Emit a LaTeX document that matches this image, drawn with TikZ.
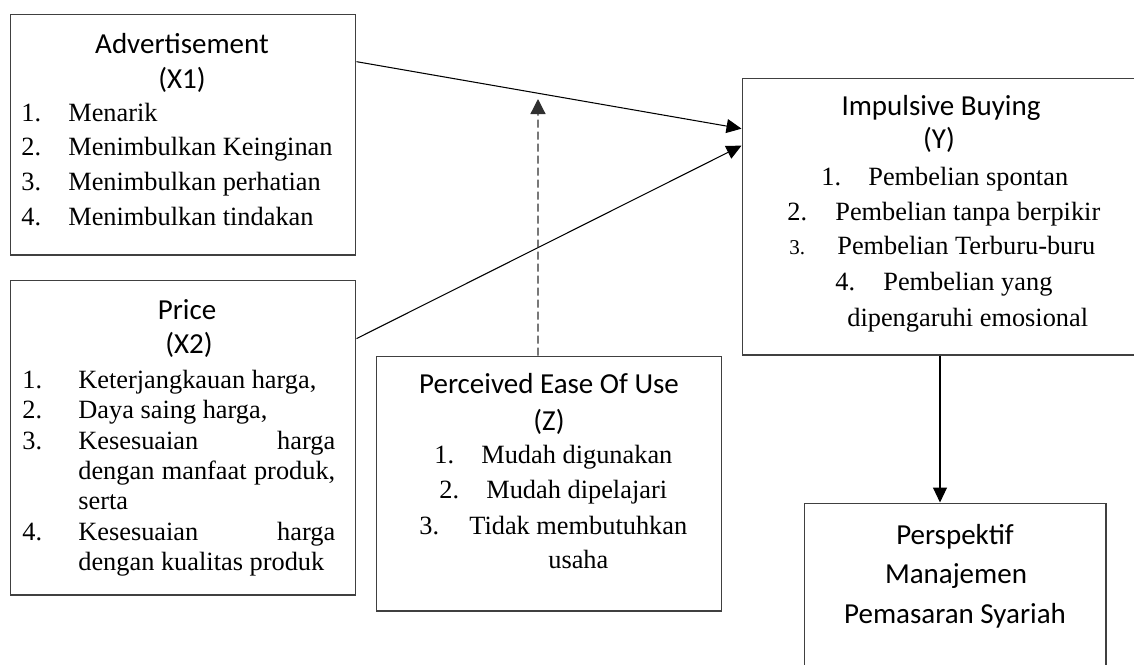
\documentclass[tikz,border=0pt]{standalone}
\usepackage{fontspec}
\setmainfont{Liberation Serif}
\newfontfamily\calfont{Carlito}
\usetikzlibrary{arrows.meta,calc}
\definecolor{boxgray}{HTML}{404040}
\definecolor{dashgray}{HTML}{303030}
\newcommand{\itemfont}{\fontsize{15pt}{18pt}\selectfont}
\newcommand{\smallnum}{\fontsize{12pt}{14pt}\selectfont}
\newcommand{\titlefont}{\calfont\fontsize{16.5pt}{20pt}\selectfont}
\begin{document}
\begin{tikzpicture}[x=0.02cm,y=-0.02cm,
  box/.style={draw=boxgray,line width=0.6pt,rectangle,inner sep=0pt},
  ttl/.style={font=\titlefont,inner sep=0pt,anchor=base},
  itm/.style={font=\itemfont,inner sep=0pt,anchor=base west},
  conn/.style={line width=0.6pt,draw=black,-{Triangle[length=0.3cm,width=0.28cm]}},
  modconn/.style={line width=0.7pt,draw=dashgray,dash pattern=on 0.16cm off 0.08cm,-{Triangle[length=0.3cm,width=0.3cm]}}
]
\useasboundingbox (0,0) rectangle (1134,664);

% boxes
\node[box,minimum width=6.92cm,minimum height=4.82cm] (adv) at (183,134.5) {};
\node[box,minimum width=6.92cm,minimum height=6.30cm] (price) at (183,437.5) {};
\node[box,minimum width=6.92cm,minimum height=5.10cm] (pez) at (549,483.5) {};
\node[box,minimum width=7.92cm,minimum height=5.54cm] (ib) at (940,216.5) {};
\node[box,minimum width=6.04cm,minimum height=3.54cm] (pms) at (955,591.5) {};

% Advertisement
\node[ttl] (advt) at (182,53) {Advertisement};
\node[ttl] (advx) at (182,88) {(X1)};
\node[itm] (an1) at (21,121) {1.};
\node[itm] (ai1) at (68,121) {Menarik};
\node[itm] (an2) at (21,155) {2.};
\node[itm] (ai2) at (68,155) {Menimbulkan Keinginan};
\node[itm] (an3) at (21,190) {3.};
\node[itm] (ai3) at (68,190) {Menimbulkan perhatian};
\node[itm] (an4) at (21,225) {4.};
\node[itm] (ai4) at (68,225) {Menimbulkan tindakan};

% Price
\node[ttl] (prt) at (187,319) {Price};
\node[ttl] (prx) at (189,353) {(X2)};
\node[itm] (pn1) at (22,388) {1.};
\node[itm] (pi1) at (78,388) {Keterjangkauan harga,};
\node[itm] (pn2) at (22,418) {2.};
\node[itm] (pi2) at (78,418) {Daya saing harga,};
\node[itm] (pn3) at (22,449) {3.};
\node[itm] (pi3) at (78,449) {\makebox[5.14cm][s]{Kesesuaian\hfill harga}};
\node[itm] (pi3b) at (78,479) {\makebox[5.14cm][s]{dengan manfaat produk,}};
\node[itm] (pi3c) at (78,509) {serta};
\node[itm] (pn4) at (22,540) {4.};
\node[itm] (pi4) at (78,540) {\makebox[5.14cm][s]{Kesesuaian\hfill harga}};
\node[itm] (pi4b) at (78,570) {dengan kualitas produk};

% Perceived Ease Of Use
\node[ttl] (pzt) at (549,393) {Perceived Ease Of Use};
\node[ttl] (pzx) at (549,430) {(Z)};
\node[itm] (zn1) at (434,463) {1.};
\node[itm] (zi1) at (481,463) {Mudah digunakan};
\node[itm] (zn2) at (439,498) {2.};
\node[itm] (zi2) at (486,498) {Mudah dipelajari};
\node[itm] (zn3) at (419,534) {3.};
\node[itm] (zi3) at (469,534) {Tidak membutuhkan};
\node[itm] (zi3b) at (548,568) {usaha};

% Impulsive Buying
\node[ttl] (ibt) at (941,115) {Impulsive Buying};
\node[ttl] (ibx) at (939,148) {(Y)};
\node[itm] (yn1) at (821,185) {1.};
\node[itm] (yi1) at (868,185) {Pembelian spontan};
\node[itm] (yn2) at (787,220) {2.};
\node[itm] (yi2) at (835,220) {Pembelian tanpa berpikir};
\node[itm,font=\smallnum] (yn3) at (789,254) {3.};
\node[itm] (yi3) at (837,254) {Pembelian Terburu-buru};
\node[itm] (yn4) at (835,290) {4.};
\node[itm] (yi4) at (883,290) {Pembelian yang};
\node[itm] (yi4b) at (847,326) {dipengaruhi emosional};

% Perspektif
\node[ttl] (pm1) at (955,544) {Perspektif};
\node[ttl] (pm2) at (956,583) {Manajemen};
\node[ttl] (pm3) at (955,623) {Pemasaran Syariah};

% connectors
\draw[conn] ($(adv.north east)!0.199!(adv.south east)$) -- ($(ib.north west)!0.184!(ib.south west)$);
\draw[conn] ($(price.north east)!0.187!(price.south east)$) -- ($(ib.north west)!0.245!(ib.south west)$);
\coordinate (modtip) at (538,99);
\draw[modconn] ($(pez.north west)!0.468!(pez.north east)$) -- (modtip);
\draw[conn] (ib.south) -- (ib.south |- pms.north);
\end{tikzpicture}
\end{document}
